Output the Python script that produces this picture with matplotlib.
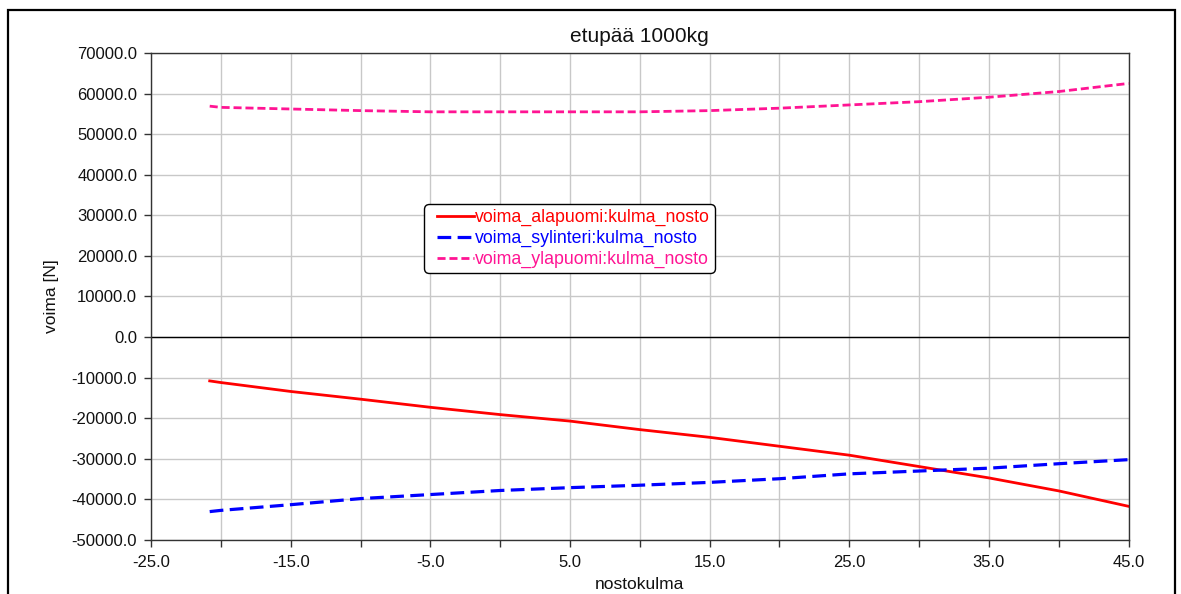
import matplotlib
matplotlib.use("Agg")
import matplotlib.pyplot as plt
from matplotlib.patches import Rectangle
from matplotlib.legend_handler import HandlerLine2D
from matplotlib.lines import Line2D
import numpy as np

plt.rcParams['font.family'] = ['Liberation Sans', 'DejaVu Sans']

# data
kulma = [-20.8, -20, -15, -10, -5, 0, 5, 10, 15, 20, 25, 30, 35, 40, 45]
alapuomi = [-10800, -11200, -13400, -15300, -17300, -19100, -20700, -22800,
            -24700, -26900, -29100, -31900, -34700, -37900, -41700]
sylinteri = [-43000, -42700, -41300, -39800, -38800, -37800, -37100, -36500,
             -35800, -34900, -33700, -33000, -32300, -31200, -30200]
ylapuomi = [56900, 56600, 56200, 55800, 55500, 55500, 55500, 55500,
            55800, 56400, 57200, 58000, 59100, 60500, 62500]

labels = ["voima_alapuomi:kulma_nosto", "voima_sylinteri:kulma_nosto",
          "voima_ylapuomi:kulma_nosto"]
colors = ["#ff0000", "#0000ff", "#ff1493"]

title = "etupää 1000kg"
xlabel = "nostokulma"
ylabel = "voima [N]"
xlim = (-25, 45)
ylim = (-50000, 70000)

fig = plt.figure(figsize=(11.81, 5.94), dpi=100)
ax = fig.add_axes([0.1279, 0.0909, 0.8277, 0.8199])

# outer frame
fig.patches.append(Rectangle((8 / 1181, -0.05), (1175 - 8) / 1181, 1.05 - 10 / 594,
                             transform=fig.transFigure, fill=False,
                             edgecolor='black', linewidth=1.6))

ax.plot(kulma, alapuomi, color=colors[0], lw=2.0, label=labels[0])
ax.plot(kulma, sylinteri, color=colors[1], lw=2.3, dashes=(4.3, 2.0), label=labels[1])
ax.plot(kulma, ylapuomi, color=colors[2], lw=2.0, dashes=(2.9, 1.4), label=labels[2])

ax.axhline(0, color='black', lw=1.0, zorder=1.5)

ax.set_xlim(*xlim)
ax.set_ylim(*ylim)
xt = np.arange(-25, 46, 5)
ax.set_xticks(xt)
ax.set_xticklabels([("%.1f" % v) if i % 2 == 0 else "" for i, v in enumerate(xt)])
yt = np.arange(-50000, 70001, 10000)
ax.set_yticks(yt)
ax.set_yticklabels(["%.1f" % v for v in yt])

ax.grid(True, color='#c8c8c8', lw=1.0, zorder=0)
ax.set_axisbelow(True)
for s in ax.spines.values():
    s.set_color('#333333')
    s.set_linewidth(1.0)
ax.tick_params(axis='both', direction='out', length=5, width=1, color='#333333',
               labelsize=12, labelcolor='#111111')
ax.tick_params(axis='y', pad=5)
ax.tick_params(axis='x', pad=6)

ax.set_title(title, fontsize=15, pad=8, color='#111111')
ax.set_xlabel(xlabel, fontsize=12.5, labelpad=5, color='#111111')
ax.set_ylabel(ylabel, fontsize=12.5, labelpad=9, color='#111111')

fs = 12.8
hmap = {Line2D: HandlerLine2D(xpad=0.45)}
leg = ax.legend(loc='upper left', bbox_to_anchor=(0.279, 0.69), fontsize=fs,
                handlelength=2.5, handletextpad=0.08, labelspacing=0.2,
                borderpad=0.3, borderaxespad=0, fancybox=True, framealpha=1,
                edgecolor='black', labelcolor=colors, handler_map=hmap)
leg.get_frame().set_linewidth(1.0)
leg.get_frame().set_boxstyle('round', pad=0, rounding_size=0.3)

fig.savefig("out.png", dpi=100)
